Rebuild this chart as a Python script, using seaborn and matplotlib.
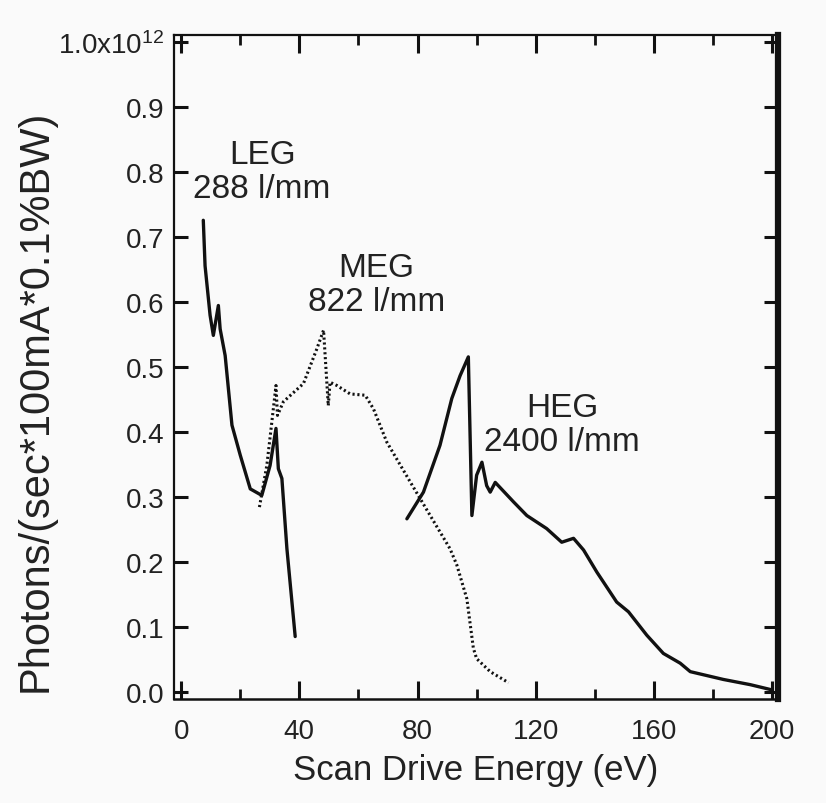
"""
Photon flux vs scan drive energy for the three gratings (LEG / MEG / HEG).
Values read off the published figure, flux in units of 1e12.
"""

import matplotlib
matplotlib.use("Agg")
import matplotlib.pyplot as plt
from matplotlib.ticker import MultipleLocator, FixedLocator, FixedFormatter
import seaborn as sns

# ── data ────────────────────────────────────────────────────────────────────
leg_energy = [7.5, 8.1, 9.8, 10.9, 12.6, 13.2, 14.9, 17.2, 20.0, 23.4, 27.3,
              30.1, 32.1, 32.9, 34.1, 35.8, 38.6]
leg_flux = [0.726, 0.656, 0.580, 0.549, 0.595, 0.559, 0.518, 0.411, 0.365,
            0.313, 0.303, 0.349, 0.406, 0.344, 0.329, 0.221, 0.086]

meg_energy = [26.5, 29.0, 30.7, 32.1, 32.6, 34.6, 41.4, 45.9, 48.2, 49.8, 50.4,
              52.7, 57.2, 62.3, 65.1, 69.6, 77.5, 84.3, 91.0, 93.3, 96.7, 98.9,
              100.0, 104.6, 110.8]
meg_flux = [0.285, 0.349, 0.416, 0.472, 0.426, 0.447, 0.475, 0.528, 0.557,
            0.441, 0.477, 0.472, 0.459, 0.457, 0.436, 0.385, 0.324, 0.272,
            0.221, 0.196, 0.144, 0.068, 0.052, 0.032, 0.015]

heg_energy = [76.4, 82.0, 87.6, 91.6, 94.4, 97.2, 98.4, 100.0, 101.8, 103.4,
              104.6, 106.3, 112.5, 117.0, 123.7, 128.8, 132.8, 136.2, 140.7,
              147.4, 151.4, 157.6, 163.2, 168.9, 172.3, 183.5, 192.6, 199.9]
heg_flux = [0.267, 0.308, 0.380, 0.452, 0.487, 0.516, 0.272, 0.334, 0.354,
            0.318, 0.308, 0.323, 0.293, 0.272, 0.252, 0.231, 0.237, 0.219,
            0.185, 0.139, 0.124, 0.088, 0.060, 0.045, 0.032, 0.020, 0.012,
            0.004]

y_ticks = [0.0, 0.1, 0.2, 0.3, 0.4, 0.5, 0.6, 0.7, 0.8, 0.9, 1.0]
y_tick_labels = ["0.0", "0.1", "0.2", "0.3", "0.4", "0.5", "0.6", "0.7",
                 "0.8", "0.9", "1.0x10$^{12}$"]
x_ticks = [0, 40, 80, 120, 160, 200]

# ── style ───────────────────────────────────────────────────────────────────
sns.set_theme(style="ticks")
plt.rcParams["font.family"] = ["Liberation Sans", "DejaVu Sans"]
plt.rcParams["mathtext.fontset"] = "custom"
plt.rcParams["mathtext.rm"] = "Liberation Sans"
plt.rcParams["mathtext.it"] = "Liberation Sans"
plt.rcParams["mathtext.bf"] = "Liberation Sans"

TEXT = "#222222"
INK = "#111111"

fig = plt.figure(figsize=(8.26, 8.04), dpi=100, facecolor="#fafafa")
ax = fig.add_axes([0.2107, 0.1294, 0.7312, 0.8259])
ax.set_facecolor("#fafafa")

sns.lineplot(x=leg_energy, y=leg_flux, ax=ax, color=INK, lw=2.4,
             sort=False, estimator=None)
sns.lineplot(x=meg_energy, y=meg_flux, ax=ax, color=INK, lw=2.2,
             linestyle=(0, (0.7, 0.9)), sort=False, estimator=None)
sns.lineplot(x=heg_energy, y=heg_flux, ax=ax, color=INK, lw=2.4,
             sort=False, estimator=None)

# grating labels
ax.text(27.4, 0.801, "LEG\n288 l/mm", ha="center", va="center",
        fontsize=24, color=TEXT, linespacing=1.15)
ax.text(66.0, 0.627, "MEG\n822 l/mm", ha="center", va="center",
        fontsize=24, color=TEXT, linespacing=1.15)
ax.text(128.9, 0.412, "HEG\n2400 l/mm", ha="center", va="center",
        fontsize=24, color=TEXT, linespacing=1.15)

ax.set_xlim(-2.4, 202)
ax.set_ylim(-0.01, 1.011)
ax.xaxis.set_major_locator(FixedLocator(x_ticks))
ax.xaxis.set_minor_locator(MultipleLocator(20))
ax.yaxis.set_major_locator(FixedLocator(y_ticks))
ax.yaxis.set_major_formatter(FixedFormatter(y_tick_labels))

ax.tick_params(axis="both", which="both", direction="in",
               top=True, right=True, colors=INK, labelcolor=TEXT)
ax.tick_params(axis="x", which="major", length=13, width=2.2, pad=14,
               labelsize=20)
ax.tick_params(axis="x", which="minor", length=7, width=2)
ax.tick_params(axis="y", which="major", length=10, width=2.2, pad=7,
               labelsize=20)

for side, w in [("left", 1.6), ("bottom", 1.8), ("top", 1.6), ("right", 4.5)]:
    ax.spines[side].set_visible(True)
    ax.spines[side].set_linewidth(w)
    ax.spines[side].set_color(INK)

ax.set_xlabel("Scan Drive Energy (eV)", fontsize=25, color=TEXT, labelpad=6)
ax.set_ylabel("Photons/(sec*100mA*0.1%BW)", fontsize=30, color=TEXT,
              labelpad=2, y=0.45)

fig.savefig("out.png", dpi=100, facecolor=fig.get_facecolor())
plt.close(fig)
